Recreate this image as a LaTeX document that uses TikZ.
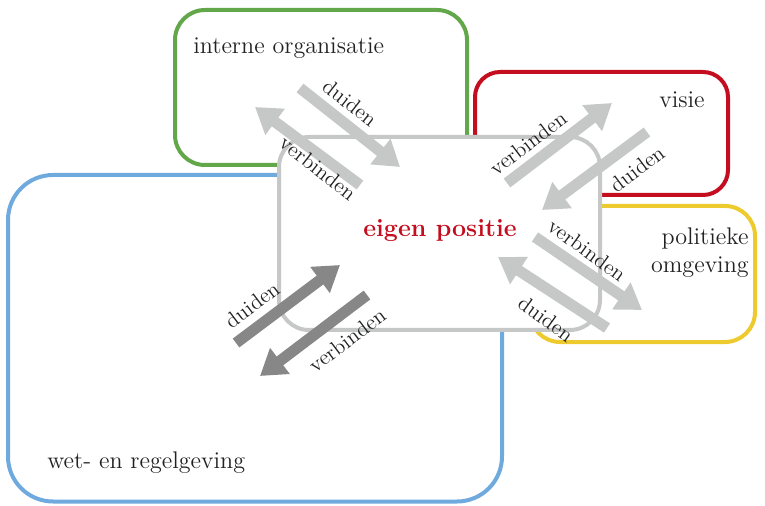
\documentclass[tikz,border=0pt]{standalone}
\usetikzlibrary{arrows.meta}

\definecolor{groen}{HTML}{62A84B}
\definecolor{rood}{HTML}{C40D1E}
\definecolor{geel}{HTML}{EDCB2E}
\definecolor{blauw}{HTML}{6FAADF}
\definecolor{lichtgrijs}{HTML}{C6C7C7}
\definecolor{donkergrijs}{HTML}{878787}
\definecolor{tekst}{HTML}{222222}

\begin{document}
\begin{tikzpicture}[
    kader/.style={line width=0.08cm, rounded corners=0.6cm},
    pijl/.style={line width=0.22cm, -{Triangle[width=0.62cm,length=0.5cm]}},
    woord/.style={font=\fontsize{12.3}{14}\selectfont, text=tekst, inner sep=0pt},
    titel/.style={font=\fontsize{13.7}{16}\selectfont, text=tekst, inner sep=0pt}
]

    \useasboundingbox (0,0) rectangle (15.3,10.1);

    % Omgevingen
    \draw[kader, groen] (3.5,6.8) rectangle (9.34,9.9);
    \draw[kader, rood, rounded corners=0.5cm] (9.5,6.2) rectangle (14.56,8.66);
    \draw[kader, geel] (10.6,3.26) rectangle (15.1,5.98);
    \draw[kader, blauw, rounded corners=0.9cm] (0.16,0.07) rectangle (10.04,6.6);

    % Eigen positie
    \draw[kader, lichtgrijs, fill=white] (5.58,3.5) rectangle (12.0,7.36);

    % Pijlen (licht)
    \foreach \xa/\ya/\xb/\yb in {
        6.0/8.34/8.0/6.76, 7.2/6.4/5.1/7.96,
        10.14/6.44/12.24/8.04, 12.94/7.46/10.84/5.9,
        10.7/5.36/12.84/3.9, 12.14/3.54/9.96/4.96
    }
    \draw[pijl, lichtgrijs] (\xa,\ya) -- (\xb,\yb);

    % Pijlen (donker)
    \foreach \xa/\ya/\xb/\yb in {
        4.72/3.24/6.8/4.8, 7.34/4.2/5.2/2.58
    }
    \draw[pijl, donkergrijs] (\xa,\ya) -- (\xb,\yb);

    % Labels bij de pijlen
    \node[woord, rotate=-38] (duidenA) at (7.0,8.04) {duiden};
    \node[woord, rotate=-38] (verbindenA) at (6.36,6.74) {verbinden};
    \node[woord, rotate=37] (verbindenB) at (10.56,7.24) {verbinden};
    \node[woord, rotate=37] (duidenB) at (12.74,6.72) {duiden};
    \node[woord, rotate=-36] (verbindenC) at (11.74,5.1) {verbinden};
    \node[woord, rotate=-36] (duidenC) at (10.92,3.72) {duiden};
    \node[woord, rotate=37] (duidenD) at (5.04,4.0) {duiden};
    \node[woord, rotate=37] (verbindenD) at (6.94,3.3) {verbinden};

    % Namen
    \node[titel, anchor=base west] (intern) at (3.86,9.02) {interne organisatie};
    \node[titel, anchor=base east] (visie) at (14.1,7.94) {visie};
    \node[titel, anchor=north east, align=right] (politiek) at (14.98,5.56) {politieke\\omgeving};
    \node[titel, anchor=base west] (wet) at (0.94,0.74) {wet- en regelgeving};
    \node[titel, anchor=base, text=rood, font=\fontsize{14.2}{17}\selectfont\bfseries] (eigen) at (8.8,5.36) {eigen positie};

\end{tikzpicture}
\end{document}
